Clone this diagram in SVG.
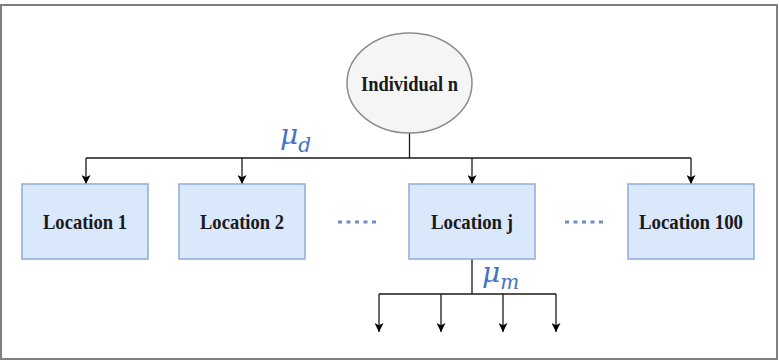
<svg xmlns="http://www.w3.org/2000/svg" width="779" height="361" viewBox="0 0 779 361">
<defs>
<marker id="arr" viewBox="0 0 10 10" refX="10" refY="5" markerWidth="10" markerHeight="9" markerUnits="userSpaceOnUse" orient="auto">
<path d="M0,0 L10,5 L0,10 L2.5,5 Z" fill="#000"/>
</marker>
<style>
.box{fill:#dae8fc;stroke:#8eaadb;stroke-width:1.5}
.lbl{font-family:"Liberation Serif","Times New Roman",serif;font-weight:bold;font-size:22px;fill:#1a1a1a;text-anchor:middle}
.ln{fill:none;stroke:#1a1a1a;stroke-width:1.3}
.arw{fill:none;stroke:#1a1a1a;stroke-width:1.3;marker-end:url(#arr)}
.mu{font-family:"DejaVu Serif","Liberation Serif",serif;font-style:italic;fill:#4472c4}
.dots{stroke:#6c8ebf;stroke-width:3;stroke-dasharray:4 4.5}
</style>
</defs>
<rect x="1" y="5" width="776" height="354" fill="#fff" stroke="#808080" stroke-width="2"/>
<g id="connectors">
<path class="ln" d="M409.5,133 V158 M86,158 H691"/>
<path class="arw" d="M86,158 V184"/>
<path class="arw" d="M242,158 V184"/>
<path class="arw" d="M472,158 V184"/>
<path class="arw" d="M691,158 V184"/>
<path class="ln" d="M472,259 V294 M379,294 H556"/>
<path class="arw" d="M379,294 V332"/>
<path class="arw" d="M441,294 V332"/>
<path class="arw" d="M503,294 V332"/>
<path class="arw" d="M556,294 V332"/>
</g>
<g id="individual">
<ellipse cx="409.5" cy="83" rx="62.5" ry="50" fill="#f5f5f5" stroke="#8c8c8c" stroke-width="1.5"/>
<text class="lbl" x="409.5" y="91" textLength="97" lengthAdjust="spacingAndGlyphs">Individual n</text>
</g>
<g id="loc1">
<rect class="box" x="22" y="184" width="126" height="75"/>
<text class="lbl" x="85" y="229" textLength="84" lengthAdjust="spacingAndGlyphs">Location 1</text>
</g>
<g id="loc2">
<rect class="box" x="179" y="184" width="126" height="75"/>
<text class="lbl" x="242" y="229" textLength="84" lengthAdjust="spacingAndGlyphs">Location 2</text>
</g>
<g id="locj">
<rect class="box" x="409" y="184" width="126" height="75"/>
<text class="lbl" x="472" y="229" textLength="82" lengthAdjust="spacingAndGlyphs">Location j</text>
</g>
<g id="loc100">
<rect class="box" x="628" y="184" width="126" height="75"/>
<text class="lbl" x="691" y="229" textLength="104" lengthAdjust="spacingAndGlyphs">Location 100</text>
</g>
<g id="ellipses">
<line class="dots" x1="338" y1="222" x2="376" y2="222"/>
<line class="dots" x1="565" y1="222" x2="603" y2="222"/>
</g>
<g id="labels">
<text class="mu" x="280" y="144" font-size="28">μ<tspan font-size="20" dy="8">d</tspan></text>
<text class="mu" x="482" y="282" font-size="28">μ<tspan font-size="20" dy="7">m</tspan></text>
</g>
</svg>
